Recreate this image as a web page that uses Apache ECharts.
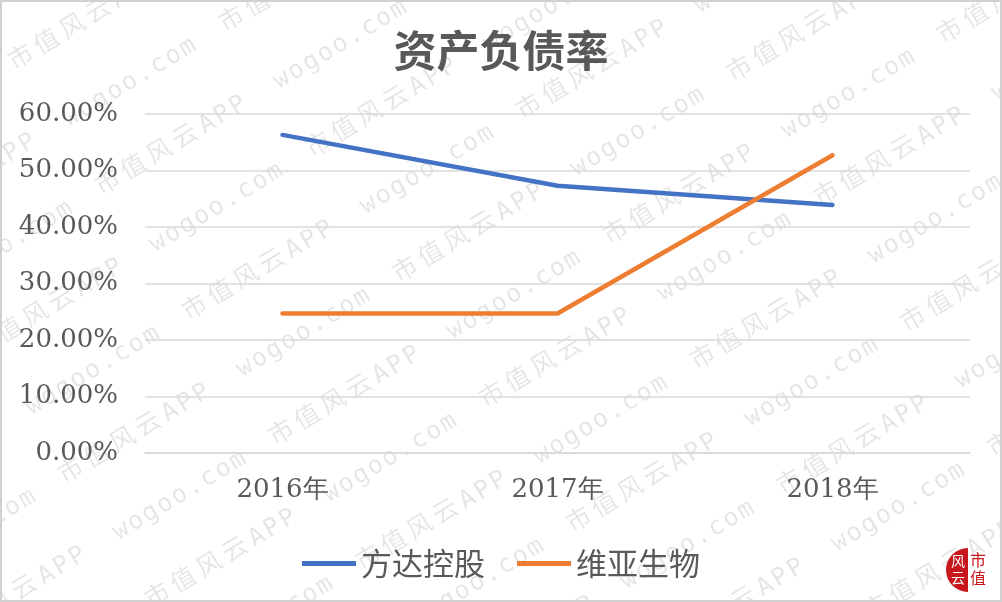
<!DOCTYPE html>
<html>
<head>
<meta charset="utf-8">
<script src="https://cdn.jsdelivr.net/npm/echarts@6/dist/echarts.min.js"></script>
<style>
html,body{margin:0;padding:0;background:#fff;}
#chart{width:1002px;height:602px;}
</style>
</head>
<body>
<div id="chart"></div>
<script>
const titleText = '资产负债率';
const categories = ['2016年', '2017年', '2018年'];
const seriesNames = ['方达控股', '维亚生物'];
const fangda = [56.3, 47.3, 43.9];
const weiya = [24.7, 24.7, 52.7];
const yTicks = [0, 10, 20, 30, 40, 50, 60];

function makeWatermark(w, h) {
  const c = document.createElement('canvas');
  c.width = w; c.height = h;
  const ctx = c.getContext('2d');
  ctx.fillStyle = 'rgba(0,0,0,0.10)';
  ctx.textBaseline = 'alphabetic';
  const th = 31 * Math.PI / 180;
  ctx.rotate(-th);
  const period = 390, rowGap = 76, shift = 200;
  for (let k = -12; k < 14; k++) {
    const v = 524 + k * rowGap;
    let u0 = 213 + k * shift;
    u0 = ((u0 % period) + period) % period - 2 * period;
    for (let u = u0; u < 1400; u += period) {
      ctx.font = '25px "DejaVu Sans Mono"';
      let x = u;
      for (const ch of 'wogoo.com') { ctx.fillText(ch, x, v); x += 17; }
      x = u + 153 + 30;
      ctx.font = '25px "Noto Sans CJK SC"';
      for (const ch of '市值风云') { ctx.fillText(ch, x, v); x += 30; }
      ctx.font = '25px "DejaVu Sans Mono"';
      for (const ch of 'APP') { ctx.fillText(ch, x, v); x += 18; }
    }
  }
  return c;
}

const chart = echarts.init(document.getElementById('chart'), null, {renderer: 'canvas'});
const labelColor = '#595959';
const option = {
  backgroundColor: '#ffffff',
  animation: false,
  title: {
    text: titleText,
    left: 'center',
    top: 24,
    textStyle: {
      fontFamily: 'Noto Sans CJK SC',
      fontSize: 43,
      fontWeight: 'bold',
      color: labelColor
    }
  },
  legend: {
    top: 543,
    left: 'center',
    icon: 'rect',
    itemWidth: 54,
    itemHeight: 5,
    itemGap: 32,
    data: seriesNames,
    textStyle: {
      fontFamily: 'Noto Sans CJK SC',
      fontSize: 31,
      color: labelColor
    }
  },
  grid: {
    left: 145,
    right: 32,
    top: 114,
    bottom: 149,
    containLabel: false
  },
  xAxis: {
    type: 'category',
    data: categories,
    boundaryGap: true,
    axisLine: {show: true, lineStyle: {color: '#d9d9d9', width: 1.5}},
    axisTick: {show: false},
    axisLabel: {
      margin: 24,
      fontFamily: '"DejaVu Serif", serif',
      fontSize: 26,
      color: labelColor
    }
  },
  yAxis: {
    type: 'value',
    min: yTicks[0],
    max: yTicks[yTicks.length - 1],
    interval: yTicks[1] - yTicks[0],
    axisLine: {show: false},
    axisTick: {show: false},
    splitLine: {lineStyle: {color: '#d9d9d9', width: 1.5}},
    axisLabel: {
      margin: 27,
      fontFamily: '"DejaVu Serif", serif',
      fontSize: 26,
      color: labelColor,
      formatter: v => v.toFixed(2) + '%'
    }
  },
  series: [
    {
      name: seriesNames[0],
      type: 'line',
      data: fangda,
      symbol: 'none',
      z: 3,
      itemStyle: {color: '#4472C4'},
      lineStyle: {color: '#4472C4', width: 4.5, cap: 'round', join: 'round'}
    },
    {
      name: seriesNames[1],
      type: 'line',
      data: weiya,
      symbol: 'none',
      z: 4,
      itemStyle: {color: '#ED7D31'},
      lineStyle: {color: '#ED7D31', width: 4.5, cap: 'round', join: 'round'}
    }
  ],
  graphic: [
    {
      type: 'image',
      left: 0, top: 0, z: -10, silent: true,
      style: {image: makeWatermark(1002, 602), width: 1002, height: 602}
    },
    {
      type: 'rect', z: 100, silent: true,
      shape: {x: 1, y: 1, width: 1000, height: 600},
      style: {fill: null, stroke: '#d0d0d0', lineWidth: 2}
    },
    {
      type: 'sector', z: 100, silent: true,
      shape: {cx: 968, cy: 570, r: 22, r0: 0, startAngle: Math.PI / 2, endAngle: Math.PI * 1.5, clockwise: true},
      style: {fill: '#c8161d'}
    },
    {
      type: 'text', z: 101, silent: true,
      x: 951, y: 552,
      style: {text: '风\n云', fill: '#ffffff', fontSize: 14, lineHeight: 17, fontFamily: 'Noto Sans CJK SC'}
    },
    {
      type: 'text', z: 101, silent: true,
      x: 970, y: 551,
      style: {text: '市\n值', fill: '#c8161d', fontSize: 16, lineHeight: 18, fontFamily: 'Noto Sans CJK SC'}
    }
  ]
};
chart.setOption(option);
</script>
</body>
</html>
